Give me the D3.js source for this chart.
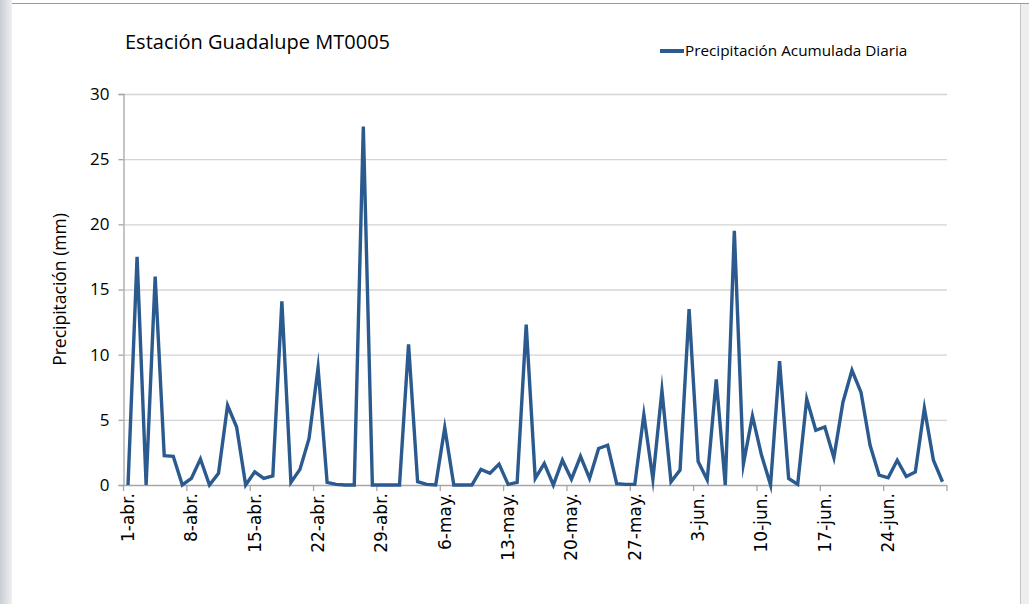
<!DOCTYPE html>
<html>
<head>
<meta charset="utf-8">
<script src="https://cdn.jsdelivr.net/npm/d3@7"></script>
<style>
  body { margin: 0; background: #fff; }
  svg { display: block; font-family: 'Open Sans', 'Liberation Sans', sans-serif; }
</style>
</head>
<body>
<svg id="chart" width="1029" height="604"></svg>
<script>
const chartTitle = 'Estación Guadalupe MT0005';
const seriesName = 'Precipitación Acumulada Diaria';
const yLabel = 'Precipitación (mm)';

// dias: 1-abr. .. 30-jun.
const dias = d3.timeDays(new Date(2013, 3, 1), new Date(2013, 6, 1));
const mesAbr = ['ene', 'feb', 'mar', 'abr', 'may', 'jun', 'jul', 'ago', 'sep', 'oct', 'nov', 'dic'];
const fmtDia = d => `${d.getDate()}-${mesAbr[d.getMonth()]}.`;

// precipitacion diaria (mm)
const precip = [
  0, 17.5, 0, 16.0, 2.25, 2.2, 0,
  0.5, 2.0, 0, 0.9, 6.1, 4.45, 0,
  1.0, 0.5, 0.7, 14.1, 0.2, 1.2, 3.55,
  9.0, 0.2, 0.05, 0, 0, 27.5, 0,
  0, 0, 0, 10.8, 0.25, 0.05, 0,
  4.4, 0, 0, 0, 1.2, 0.9, 1.6,
  0.05, 0.2, 12.3, 0.5, 1.65, 0, 1.9,
  0.45, 2.2, 0.5, 2.8, 3.05, 0.1, 0.05,
  0.05, 5.4, 0.45, 7.25, 0.25, 1.15, 13.5,
  1.8, 0.4, 8.1, 0, 19.5, 1.6, 5.3,
  2.3, 0, 9.5, 0.5, 0.05, 6.6, 4.2,
  4.45, 2.1, 6.35, 8.8, 7.1, 3.05, 0.75,
  0.55, 1.9, 0.65, 1.0, 5.9, 1.9, 0.25
];

const yTicks = [0, 5, 10, 15, 20, 25, 30];
const tickEvery = 7;

const svg = d3.select('#chart');
const W = 1029, H = 604;
const plot = { left: 123.5, right: 947, top: 94, bottom: 485 };
const lineColor = '#2b5a8f';
const gridColor = '#d4d4d4';

// marco de la captura
const defs = svg.append('defs');
const grad = defs.append('linearGradient').attr('id', 'leftEdge');
grad.append('stop').attr('offset', 0).attr('stop-color', '#c9ced3');
grad.append('stop').attr('offset', 1).attr('stop-color', '#eef0f2');
svg.append('rect').attr('width', W).attr('height', H).attr('fill', '#fff');
svg.append('rect').attr('x', 0).attr('y', 0).attr('width', 12).attr('height', H).attr('fill', 'url(#leftEdge)');
svg.append('line').attr('x1', 12).attr('x2', W).attr('y1', 3.5).attr('y2', 3.5).attr('stroke', '#9a9a9a');
svg.append('rect').attr('x', 1021).attr('y', 4).attr('width', 8).attr('height', H).attr('fill', '#eceef0');
svg.append('line').attr('x1', 1020.5).attr('x2', 1020.5).attr('y1', 4).attr('y2', H).attr('stroke', '#c4c4c4');

const xs = d3.scaleBand().domain(d3.range(precip.length)).range([plot.left, plot.right]).padding(0);
const ys = d3.scaleLinear().domain([0, 30]).range([plot.bottom, plot.top]);
const xc = i => xs(i) + xs.bandwidth() / 2;

// rejilla
svg.append('g')
  .selectAll('line')
  .data(yTicks.filter(t => t > 0))
  .enter()
  .append('line')
  .attr('x1', plot.left).attr('x2', plot.right)
  .attr('y1', d => ys(d) + 0.5).attr('y2', d => ys(d) + 0.5)
  .attr('stroke', gridColor).attr('stroke-width', 1.3);

// eje Y
const yAxis = svg.append('g')
  .attr('transform', `translate(${plot.left},0)`)
  .call(d3.axisLeft(ys).tickValues(yTicks).tickSize(5).tickPadding(9));
yAxis.select('.domain').attr('stroke', '#a6a6a6').attr('stroke-width', 1.3);
yAxis.selectAll('.tick line').attr('stroke', '#a6a6a6').attr('stroke-width', 1.3);
yAxis.selectAll('.tick text')
  .attr('fill', '#000')
  .style('font-size', '17px')
  .style('font-family', "'Open Sans', sans-serif");

// eje X: marcas en el borde de la categoria cada 7 dias
const xTickIdx = d3.range(0, precip.length, tickEvery);
const xAxisG = svg.append('g');
xAxisG.append('line')
  .attr('x1', plot.left).attr('x2', plot.right)
  .attr('y1', plot.bottom + 0.5).attr('y2', plot.bottom + 0.5)
  .attr('stroke', '#a6a6a6').attr('stroke-width', 1.3);
xAxisG.selectAll('line.tk')
  .data(xTickIdx.map(i => xs(i)).concat([plot.right]))
  .enter()
  .append('line')
  .attr('class', 'tk')
  .attr('x1', d => d).attr('x2', d => d)
  .attr('y1', plot.bottom).attr('y2', plot.bottom + 6)
  .attr('stroke', '#a6a6a6').attr('stroke-width', 1.3);
xAxisG.selectAll('text')
  .data(xTickIdx)
  .enter()
  .append('text')
  .attr('transform', i => `translate(${xc(i) + 6},${plot.bottom + 8}) rotate(-90)`)
  .attr('text-anchor', 'end')
  .style('font-size', '17px')
  .style('font-family', "'DejaVu Sans', sans-serif")
  .text(i => fmtDia(dias[i]));

// serie
svg.append('path')
  .datum(precip)
  .attr('fill', 'none')
  .attr('stroke', lineColor)
  .attr('stroke-width', 3.4)
  .attr('stroke-linejoin', 'miter')
  .attr('stroke-miterlimit', 10)
  .attr('d', d3.line().x((d, i) => xc(i)).y(d => ys(d)));

// titulo
svg.append('text')
  .attr('x', 125).attr('y', 49)
  .style('font-size', '20px')
  .text(chartTitle);

// leyenda
svg.append('line')
  .attr('x1', 660).attr('x2', 684).attr('y1', 51).attr('y2', 51)
  .attr('stroke', lineColor).attr('stroke-width', 4);
svg.append('text')
  .attr('x', 685).attr('y', 56)
  .style('font-size', '15.3px')
  .text(seriesName);

// titulo eje Y
svg.append('g')
  .attr('transform', `translate(66, ${(plot.top + plot.bottom) / 2})`)
  .append('text')
  .attr('text-anchor', 'middle')
  .attr('transform', 'rotate(-90)')
  .style('font-size', '17.5px')
  .text(yLabel);
</script>
</body>
</html>
